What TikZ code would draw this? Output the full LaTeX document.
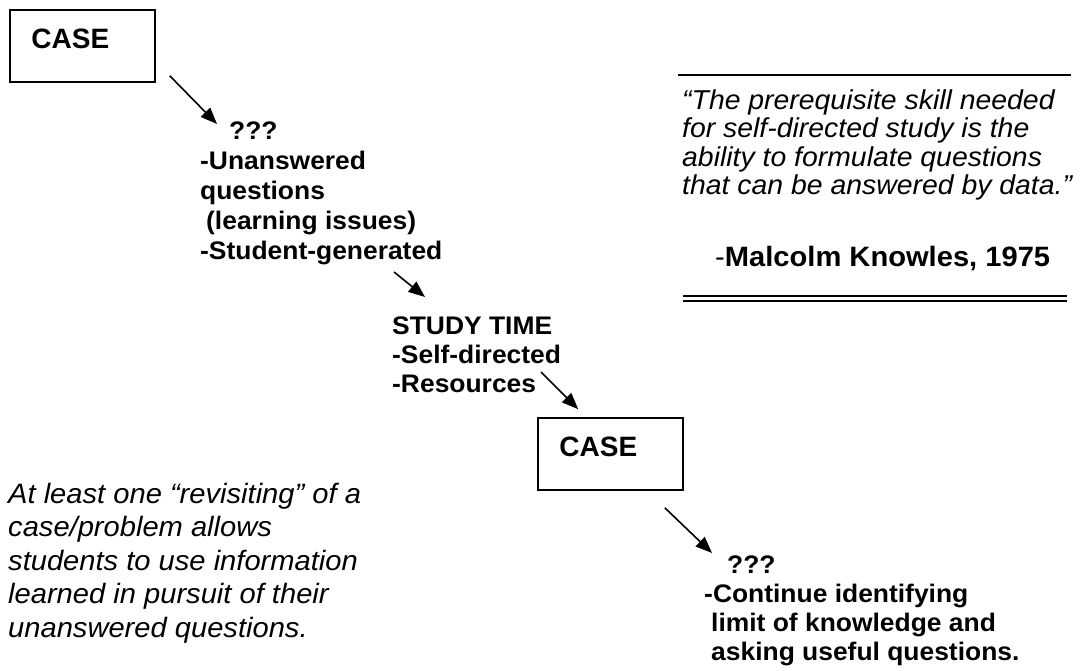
\documentclass[tikz,border=0pt]{standalone}
\usepackage{fontspec}
\setmainfont{Liberation Sans}[FakeStretch=1.04]
\newfontfamily\casefont{Liberation Sans}
\usetikzlibrary{arrows.meta,calc}
\tikzset{
  casebox/.style={draw, line width=1.6pt, minimum width=145pt, minimum height=72pt, inner sep=0pt},
  casetext/.style={inner sep=0pt, anchor=base west, font=\casefont\bfseries\fontsize{28}{30}\selectfont},
  listtext/.style={inner sep=0pt, anchor=base west, align=left, font=\bfseries\fontsize{25.4}{30}\selectfont},
  quotetext/.style={inner sep=0pt, anchor=base west, align=left, font=\itshape\fontsize{27.3}{28.5}\selectfont},
  notetext/.style={inner sep=0pt, anchor=base west, align=left, font=\itshape\fontsize{28}{33.5}\selectfont},
  flow/.style={line width=1.6pt, -{Triangle[length=16.5pt,width=13pt]}},
  rulethick/.style={line width=2.5pt},
  rulethin/.style={line width=1.8pt}
}
\begin{document}
\begin{tikzpicture}[x=1pt,y=-1pt]
\useasboundingbox (0,0) rectangle (1088,670);
% first baselines of the text blocks
\coordinate (q1p) at (200,139);
\coordinate (studyp) at (392,334);
\coordinate (q2p) at (704,573);
% boxes
\node[casebox] (case1) at (82.5,46) {};
\node[casetext] (case1t) at ($(case1.north west)+(22,39)$) {CASE};
\node[casebox] (case2) at (610.5,454) {};
\node[casetext] (case2t) at ($(case2.north west)+(22,39)$) {CASE};
% text blocks (anchored at the baseline of their last line)
\node[listtext] (q1) at ($(q1p)+(0,120)$) {\hspace*{29pt}???\\-Unanswered\\questions\\\hspace*{6pt}(learning issues)\\-Student-generated};
\node[listtext, font=\bfseries\fontsize{25.4}{29}\selectfont] (study) at ($(studyp)+(0,58)$) {STUDY TIME\\-Self-directed\\-Resources};
\node[listtext, font=\bfseries\fontsize{25.4}{29}\selectfont] (q2) at ($(q2p)+(0,87)$) {\hspace*{23pt}???\\-Continue identifying\\\hspace*{7pt}limit of knowledge and\\\hspace*{7pt}asking useful questions.};
\node[quotetext] (quote) at (682,194.5) {“The prerequisite skill needed\\for self-directed study is the\\ability to formulate questions\\that can be answered by data.”};
\node[inner sep=0pt, anchor=base west, font=\fontsize{28}{30}\selectfont] (author) at (715,266) {-\textbf{Malcolm Knowles, 1975}};
\node[notetext] (note) at (8,637) {At least one “revisiting” of a\\case/problem allows\\students to use information\\learned in pursuit of their\\unanswered questions.};
% rules
\coordinate (r1a) at (678,75); \coordinate (r1b) at (1071,75);
\draw[rulethick] (r1a) -- (r1b);
\coordinate (r2a) at (683,296); \coordinate (r2b) at (1067,296);
\coordinate (r3a) at (683,301); \coordinate (r3b) at (1067,301);
\draw[rulethin] (r2a) -- (r2b);
\draw[rulethin] (r3a) -- (r3b);
% arrows
\draw[flow] ($(case1.south east)+(14,-7)$) -- ($(q1p)+(17,-15)$);
\draw[flow] ($(q1p)+(194,133)$) -- ($(studyp)+(33,-37)$);
\draw[flow] ($(studyp)+(149,38)$) -- ($(case2.north west)+(41,-8)$);
\draw[flow] ($(case2.south east)+(-19,17)$) -- ($(q2p)+(8,-20)$);
\end{tikzpicture}
\end{document}
